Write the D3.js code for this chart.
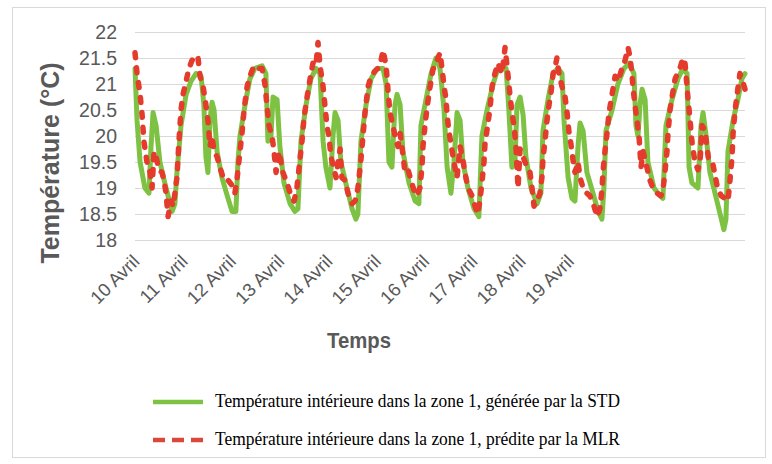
<!DOCTYPE html>
<html><head><meta charset="utf-8">
<script src="https://cdn.jsdelivr.net/npm/d3@7"></script>
<style>html,body{margin:0;padding:0;background:#fff;}svg{display:block;}</style>
</head><body>
<svg id="chart" width="772" height="464"></svg>
<script>
// Time in hours since 10 Avril 00:00
const stdHours = [0.0,0.8,2.0,3.9,5.5,6.3,7.1,8.3,9.8,12.2,14.6,15.7,16.5,18.1,20.1,22.0,24.0,26.0,27.1,27.9,28.7,29.5,30.3,31.1,32.3,34.2,36.6,38.2,39.7,40.5,41.3,43.3,45.2,47.2,50.0,51.5,52.3,53.5,54.3,55.9,57.0,58.6,61.0,62.9,64.1,65.3,67.3,69.2,71.2,72.8,74.0,75.1,76.7,77.9,78.7,79.9,81.0,83.4,85.4,86.9,87.7,88.9,90.9,92.9,95.2,97.6,98.8,99.9,101.1,102.3,103.1,104.3,105.4,107.8,110.2,111.7,112.5,114.5,116.5,118.4,120.0,121.6,122.8,124.3,125.5,126.7,127.9,129.0,131.0,133.4,135.3,136.5,138.5,140.9,142.8,146.0,147.1,148.3,149.5,150.3,151.5,152.7,153.8,155.8,158.2,159.7,160.5,162.5,164.5,166.4,168.0,168.8,170.4,171.9,173.1,174.3,175.1,176.3,177.8,180.2,182.2,183.7,184.5,185.3,187.7,190.0,192.4,194.4,196.3,197.1,197.9,198.7,199.5,200.7,201.8,204.2,206.6,207.7,208.9,211.3,213.6,215.6,217.2,218.0,219.1,221.5,222.7,223.5,224.7,226.2,228.2,230.2,231.7,232.5,233.3,235.3,237.2,238.8,240.0];
const stdValues = [21.3,20.3,19.5,19.0,18.9,19.8,20.45,20.2,19.5,19.0,18.55,18.7,19.3,20.2,20.8,21.05,21.2,21.15,20.6,19.6,19.3,20.3,20.65,20.5,19.7,19.2,18.8,18.55,18.55,19.5,20.0,20.6,21.1,21.3,21.35,21.2,19.9,20.0,20.75,20.7,19.8,19.1,18.7,18.55,18.6,19.9,20.6,21.1,21.3,21.2,19.9,19.4,19.0,20.0,20.45,20.3,19.5,19.0,18.6,18.4,18.5,19.9,20.6,21.1,21.3,21.3,21.0,19.5,19.4,20.6,20.8,20.6,19.7,19.1,18.75,18.7,20.2,20.7,21.2,21.5,21.3,20.5,19.4,18.9,19.5,20.45,20.3,19.5,19.0,18.6,18.45,20.0,20.5,21.0,21.3,21.3,20.5,19.4,19.5,20.6,20.75,20.4,19.6,19.0,18.7,18.9,20.1,20.7,21.2,21.3,21.2,20.3,19.2,18.8,18.75,19.8,20.25,20.1,19.3,18.9,18.55,18.4,19.0,20.1,20.5,21.0,21.3,21.4,21.2,20.2,20.0,20.6,20.9,20.7,19.5,19.0,18.85,18.8,20.2,20.7,21.1,21.3,21.2,19.4,19.1,19.0,20.2,20.45,20.0,19.3,18.9,18.5,18.2,18.4,19.7,20.3,20.7,21.1,21.2];

const mlrHours = [0.0,0.8,2.0,2.8,3.5,4.7,5.9,6.7,7.5,8.3,9.4,10.6,11.4,12.2,13.0,14.2,15.0,15.7,16.5,17.3,18.1,18.9,20.1,21.2,22.4,23.6,24.8,25.6,26.8,27.9,28.7,29.5,30.3,31.1,32.3,33.4,35.0,36.6,38.2,39.3,40.1,41.3,42.1,42.9,44.1,45.2,46.8,48.4,50.0,51.1,51.9,52.7,53.9,54.7,55.5,56.7,58.2,59.8,61.4,62.6,63.7,64.9,65.7,66.5,67.7,68.9,70.0,71.2,72.0,72.8,74.0,74.8,75.5,76.3,77.1,77.9,79.1,79.9,80.7,81.4,82.6,83.8,85.4,86.6,87.7,88.9,89.7,90.5,91.7,92.9,94.4,95.6,96.8,97.6,98.8,99.5,100.3,101.5,102.7,103.5,104.3,105.4,106.2,107.4,108.6,109.8,110.9,112.1,112.9,113.3,114.1,114.9,116.1,117.2,118.8,120.0,120.8,121.6,122.4,122.8,123.5,124.3,125.1,125.9,126.7,127.9,129.0,129.8,131.0,132.6,133.8,134.9,135.7,136.5,137.3,137.7,138.9,139.7,140.5,141.6,142.8,144.4,145.6,146.8,147.5,148.3,149.1,149.9,150.7,151.5,152.7,154.2,155.4,156.2,157.0,158.2,159.3,160.1,160.5,161.3,162.1,162.9,163.7,164.5,165.2,166.0,166.8,168.0,169.2,170.0,170.8,171.5,172.3,173.1,174.3,175.1,176.3,177.8,179.0,180.6,181.8,182.9,183.7,184.1,184.9,185.7,186.5,187.7,188.9,190.0,191.6,192.8,194.0,194.8,195.5,195.9,196.7,197.5,198.3,199.1,199.9,201.4,202.6,203.8,205.4,206.9,207.7,208.5,209.3,209.7,210.5,211.3,212.5,214.4,215.6,216.4,217.2,217.6,218.4,219.1,220.3,221.5,222.3,223.1,224.3,225.0,225.8,227.4,229.0,230.6,232.1,233.3,234.1,234.9,235.3,236.1,236.9,238.0,238.8,240.0];
const mlrValues = [21.6,21.2,20.8,20.4,19.9,19.5,19.3,19.0,19.7,19.6,19.35,19.3,19.15,18.9,18.45,18.75,18.65,18.9,19.2,19.9,20.5,20.8,21.05,21.3,21.45,21.55,21.5,21.15,20.95,20.6,20.3,19.8,20.0,19.7,19.6,19.4,19.15,19.15,19.05,18.9,19.15,19.7,20.05,20.5,20.95,21.15,21.35,21.3,21.3,21.0,20.6,20.2,20.0,19.7,19.3,19.7,19.3,19.1,18.85,18.75,19.0,19.55,19.9,20.35,20.75,21.1,21.4,21.35,21.8,21.35,20.95,20.55,20.2,20.0,19.6,19.45,19.2,19.5,19.75,19.2,19.15,18.9,18.7,18.75,19.0,19.55,20.0,20.45,20.95,21.15,21.25,21.3,21.45,21.65,21.35,20.9,20.45,20.2,19.9,19.8,20.05,19.65,19.3,19.35,19.15,18.95,18.85,19.0,19.4,19.8,20.2,20.55,20.95,21.27,21.45,21.6,21.3,20.95,20.7,20.4,20.1,19.85,19.6,19.4,19.2,19.8,19.55,19.3,19.0,18.85,18.65,18.5,18.75,19.1,19.5,19.85,20.25,20.55,20.95,21.2,21.4,21.2,21.7,21.15,20.8,20.45,20.2,19.8,19.0,19.75,19.6,19.4,19.3,19.0,18.65,18.75,18.9,19.2,19.55,19.9,20.3,20.6,20.85,21.2,21.3,21.5,21.2,20.95,20.75,20.45,20.05,19.85,19.55,19.3,19.5,19.2,19.0,18.9,18.85,18.65,18.45,18.6,18.95,19.3,19.7,20.05,20.45,20.8,21.15,21.05,21.3,21.45,21.7,21.5,21.2,20.95,20.6,20.3,20.0,19.4,19.7,19.4,19.15,19.0,18.9,18.85,18.95,19.3,19.7,20.05,20.5,20.75,21.1,21.3,21.5,21.4,20.95,20.7,20.3,19.9,19.5,19.35,19.5,20.2,20.1,19.8,19.5,19.45,19.05,18.85,18.8,18.75,19.15,19.6,20.05,20.5,20.8,21.2,21.1,20.9];

const yTicks = [18, 18.5, 19, 19.5, 20, 20.5, 21, 21.5, 22];
const yTickLabels = ["18", "18.5", "19", "19.5", "20", "20.5", "21", "21.5", "22"];
const xTickHours = [0, 19, 38, 57, 76, 95, 114, 133, 152, 171];
const xTickLabels = ["10 Avril", "11 Avril", "12 Avril", "13 Avril", "14 Avril", "15 Avril", "16 Avril", "17 Avril", "18 Avril", "19 Avril"];
const seriesNames = ["Température intérieure dans la zone 1, générée par la STD", "Température intérieure dans la zone 1, prédite par la MLR"];
const seriesColors = ["#7dc242", "#e53b2c"];

const svg = d3.select("#chart");
const plot = {left: 135, right: 745, top: 32, bottom: 240};
const textColor = "#595959";

svg.append("rect").attr("x", 12.5).attr("y", 7.5).attr("width", 753).attr("height", 450)
  .attr("fill", "#fff").attr("stroke", "#d9d9d9").attr("stroke-width", 1);

const x = d3.scaleLinear().domain([0, 240]).range([plot.left, plot.right]);
const y = d3.scaleLinear().domain([18, 22]).range([plot.bottom, plot.top]);

// gridlines
svg.append("g").selectAll("line").data(yTicks).join("line")
  .attr("x1", plot.left).attr("x2", plot.right)
  .attr("y1", d => Math.round(y(d)) + 0.5).attr("y2", d => Math.round(y(d)) + 0.5)
  .attr("stroke", "#d9d9d9").attr("stroke-width", 1);

// y tick labels
svg.append("g").selectAll("text").data(yTicks).join("text")
  .attr("x", 117).attr("y", d => y(d)).attr("dy", "0.35em")
  .attr("text-anchor", "end").attr("fill", textColor)
  .style("font-family", "'Liberation Sans', Arial, sans-serif").style("font-size", "19.5px")
  .text((d, i) => yTickLabels[i]);

// x tick labels (rotated)
svg.append("g").selectAll("text").data(xTickHours).join("text")
  .attr("transform", d => `translate(${x(d) + 1},${258}) rotate(-45)`)
  .attr("text-anchor", "end").attr("dy", "0.35em").attr("fill", textColor)
  .style("font-family", "'Liberation Sans', Arial, sans-serif").style("font-size", "18.5px")
  .text((d, i) => xTickLabels[i]);

// axis titles
svg.append("text").attr("x", 359).attr("y", 348).attr("text-anchor", "middle")
  .attr("fill", textColor).style("font-family", "'Liberation Sans', Arial, sans-serif")
  .style("font-size", "22px").style("font-weight", "bold")
  .attr("textLength", 64).attr("lengthAdjust", "spacingAndGlyphs").text("Temps");
svg.append("text").attr("transform", `translate(59,163) rotate(-90)`).attr("text-anchor", "middle")
  .attr("fill", textColor).style("font-family", "'Liberation Sans', Arial, sans-serif")
  .style("font-size", "25px").style("font-weight", "bold").text("Température (°C)");

// lines
const stdData = stdHours.map((h, i) => [h, stdValues[i]]);
const mlrData = mlrHours.map((h, i) => [h, mlrValues[i]]);
const line = d3.line().x(d => x(d[0])).y(d => y(d[1]));

svg.append("path").datum(stdData).attr("d", line).attr("fill", "none")
  .attr("stroke", seriesColors[0]).attr("stroke-width", 5)
  .attr("stroke-linejoin", "round").attr("stroke-linecap", "round");
svg.append("path").datum(mlrData).attr("d", line).attr("fill", "none")
  .attr("stroke", seriesColors[1]).attr("stroke-width", 5.5)
  .attr("stroke-dasharray", "5,10").attr("stroke-linecap", "round")
  .attr("stroke-linejoin", "round");

// legend
const leg = svg.append("g");
const legY = [402, 440];
const legTextY = [407, 445];
leg.selectAll("line").data(seriesNames).join("line")
  .attr("x1", 153).attr("x2", 203)
  .attr("y1", (d, i) => legY[i]).attr("y2", (d, i) => legY[i])
  .attr("stroke", (d, i) => i === 1 ? "#d9493b" : seriesColors[i]).attr("stroke-width", 4.5)
  .attr("stroke-dasharray", (d, i) => i === 1 ? "12,7" : null);
leg.selectAll("text").data(seriesNames).join("text")
  .attr("x", 215).attr("y", (d, i) => legTextY[i]).attr("fill", "#000")
  .style("font-family", "'Liberation Serif', 'Times New Roman', serif").style("font-size", "19px")
  .attr("textLength", 405).attr("lengthAdjust", "spacingAndGlyphs")
  .text(d => d);
</script>
</body></html>
